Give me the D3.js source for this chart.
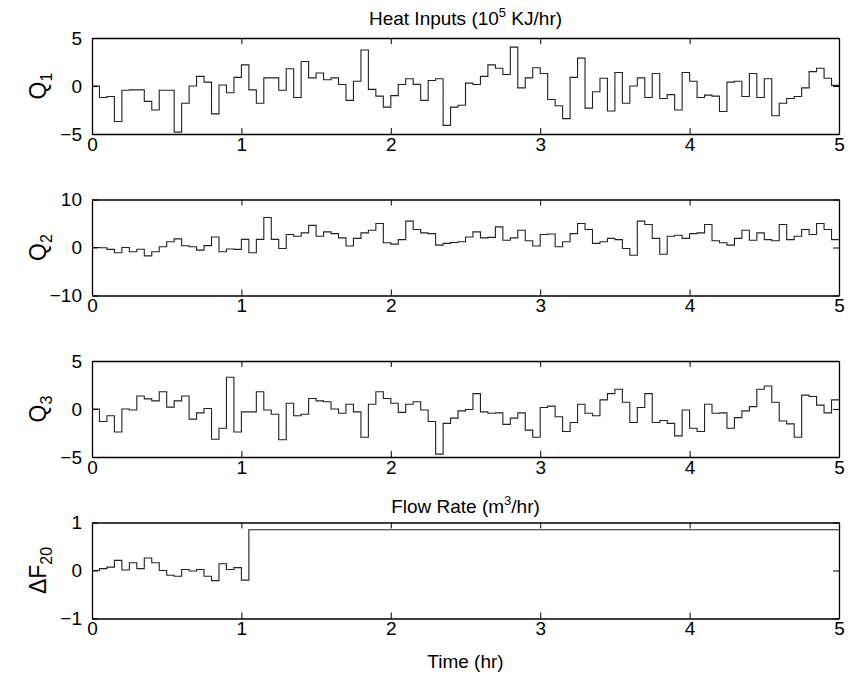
<!DOCTYPE html>
<html>

<head>
    <meta charset="utf-8">
    <title>Heat inputs and flow rate</title>
    <style>
        body { margin: 0; background: #fff; }
        text { font-family: "Liberation Sans", Arial, sans-serif; fill: #000; }
    </style>
</head>

<body>
    <script src="https://d3js.org/d3.v7.min.js"></script>
    <script>
    // Sample time of the step signals (hr)
    const dt = 0.05;
    const xTicks = [0, 1, 2, 3, 4, 5];

    // Heat input Q1 (10^5 KJ/hr), one value per 0.05 hr
    const q1 = [0, -1.2, -1.1, -3.7, -0.45, -0.4, -0.4, -1.6, -2.5, -0.45,
        -0.45, -4.8, -1.8, 0, 1.0, 0.4, -2.9, 0.1, -0.7, 0.9,
        2.2, -0.4, -1.8, 0.85, 0.85, -0.45, 1.8, -1.2, 2.55, 0.85,
        1.35, 0.65, 0.85, 0.15, -1.5, 0.5, 3.75, -0.35, -1.05, -2.2,
        -1.0, 0.15, 0.75, 0.17, -1.5, 0.58, 0.75, -4.1, -2.2, -2.0,
        0.3, 0.15, 1.0, 2.2, 1.85, 1.2, 4.05, -0.2, 0.85, 1.9,
        1.3, -1.4, -2.05, -3.4, 0.9, 2.9, -2.3, -0.6, 0.8, -2.6,
        1.4, -1.8, 0, 0.85, -1.2, 1.3, -1.3, -0.9, -2.5, 1.4,
        0.5, -1.2, -0.95, -1.05, -2.65, 0.4, 0.5, -1.1, 1.3, -1.2,
        0.75, -3.1, -1.8, -1.3, -1.1, -0.2, 1.5, 1.85, 0.8, 0.07];

    // Heat input Q2
    const q2 = [0, -0.05, -0.4, -1.1, 0, -0.9, -0.35, -1.75, -0.9, 0.15,
        1.2, 1.8, 0.35, 0.15, -0.55, 0.4, 2.2, -0.9, -0.3, -0.4,
        1.7, -1.1, 1.7, 6.25, 1.7, -0.2, 2.7, 2.35, 3.05, 4.6,
        2.35, 3.25, 2.9, 2.0, 0.3, 1.9, 3.05, 3.6, 5.0, 1.0,
        0.7, 1.65, 5.5, 3.75, 3.05, 2.9, 0.5, 0.85, 1.05, 1.2,
        2.2, 3.25, 2.0, 2.1, 4.3, 1.5, 2.0, 3.6, 1.4, 0.3,
        2.7, 2.8, 0.15, 1.2, 2.9, 5.0, 3.75, 0.85, 1.2, 1.9,
        1.65, -0.2, -1.6, 5.5, 4.8, 1.9, -1.4, 2.35, 2.55, 1.9,
        2.9, 3.05, 4.8, 1.4, 1.0, 0.5, 1.9, 3.6, 1.5, 3.05,
        1.65, 1.4, 4.8, 1.65, 2.35, 3.75, 2.7, 5.0, 3.75, 1.65];

    // Heat input Q3
    const q3 = [0, -1.3, -0.7, -2.4, 0, -0.1, 1.35, 1.05, 0.85, 1.8,
        0.2, 0.85, 1.35, -1.05, -0.4, 0.05, -3.15, -2.0, 3.3, -2.4,
        -0.3, -0.3, 1.8, -0.1, -0.55, -3.2, 0.6, -0.7, -0.55, 1.1,
        0.85, 0.75, 0, -0.45, 0.5, -0.3, -2.95, 0.5, 1.8, 1.1,
        0.6, -0.35, 0.5, 0.75, -0.1, -1.3, -4.7, -1.5, -0.95, -0.2,
        -0.05, 1.6, -0.3, -0.45, -0.4, -1.6, -0.95, -0.4, -2.2, -2.95,
        0.15, 0.3, -0.8, -2.35, -1.4, 0.5, -0.45, -0.7, 0.95, 1.6,
        2.05, 0.7, -1.4, 0.15, 1.6, -1.4, -1.2, -1.5, -2.8, -0.1,
        -2.0, -2.35, 0.5, -0.45, -0.4, -2.0, -0.9, -0.2, 0.25, 2.05,
        2.4, 0.7, -1.25, -1.55, -2.95, 1.45, 1.3, 0.4, -0.4, 0.95];

    // Flow rate change dF20 (m^3/hr); the last value is held to the end
    const dF20 = [0, 0.04, 0.07, 0.21, 0.01, 0.16, 0.04, 0.26, 0.16, 0,
        -0.1, -0.12, 0.02, -0.01, 0.02, -0.12, -0.21, 0.14, 0.02, 0.06,
        -0.2, 0.85];

    // y ranges and ticks for each panel
    const q1Domain = [-5, 5], q1Ticks = [-5, 0, 5];
    const q2Domain = [-10, 10], q2Ticks = [-10, 0, 10];
    const q3Domain = [-5, 5], q3Ticks = [-5, 0, 5];
    const fDomain = [-1, 1], fTicks = [-1, 0, 1];

    // Layout
    const width = 850, height = 681;
    const left = 92, right = 839;
    const panelH = 96;
    const tops = [38, 199.5, 361, 522.5];

    const svg = d3.select("body").append("svg")
        .attr("width", width)
        .attr("height", height);

    const x = d3.scaleLinear().domain([0, 5]).range([left, right]);

    function toPoints(vals) {
        const pts = vals.map((v, i) => ({ t: i * dt, v: v }));
        pts.push({ t: 5, v: vals[vals.length - 1] });
        return pts;
    }

    function panel(top, vals, domain, ticks, label, sub) {
        const y = d3.scaleLinear().domain(domain).range([top + panelH, top]);
        const g = svg.append("g");

        // step signal
        g.append("path")
            .datum(toPoints(vals))
            .attr("fill", "none")
            .attr("stroke", "#222")
            .attr("stroke-width", 1.1)
            .attr("d", d3.line()
                .curve(d3.curveStepAfter)
                .x(d => x(d.t))
                .y(d => y(d.v)));

        // box axes, ticks pointing inwards
        g.append("g")
            .attr("transform", `translate(0,${top + panelH})`)
            .call(d3.axisBottom(x).tickValues(xTicks).tickSizeInner(-6).tickSizeOuter(0).tickPadding(3).tickFormat(d3.format("d")));
        g.append("g")
            .attr("transform", `translate(0,${top})`)
            .call(d3.axisTop(x).tickValues(xTicks).tickSizeInner(-6).tickSizeOuter(0).tickFormat(""));
        g.append("g")
            .attr("transform", `translate(${left},0)`)
            .call(d3.axisLeft(y).tickValues(ticks).tickSizeInner(-6).tickSizeOuter(0).tickPadding(10).tickFormat(d3.format("d")));
        g.append("g")
            .attr("transform", `translate(${right},0)`)
            .call(d3.axisRight(y).tickValues(ticks).tickSizeInner(-6).tickSizeOuter(0).tickFormat(""));

        g.selectAll(".domain").attr("stroke", "#000").attr("stroke-width", 1.3);
        g.selectAll(".tick line").attr("stroke", "#000");
        g.selectAll(".tick text").style("font-size", "19px").attr("fill", "#000");

        // rotated y label with subscript
        const yl = g.append("text")
            .attr("transform", `translate(46,${top + panelH / 2}) rotate(-90)`)
            .attr("text-anchor", "middle")
            .style("font-size", "23px");
        yl.append("tspan").text(label);
        yl.append("tspan").attr("dy", 6).style("font-size", "16px").text(sub);
    }

    panel(tops[0], q1, q1Domain, q1Ticks, "Q", "1");
    panel(tops[1], q2, q2Domain, q2Ticks, "Q", "2");
    panel(tops[2], q3, q3Domain, q3Ticks, "Q", "3");
    panel(tops[3], dF20, fDomain, fTicks, "\u0394F", "20");

    const cx = (left + right) / 2;

    // titles
    const t1 = svg.append("text")
        .attr("x", cx).attr("y", 25)
        .attr("text-anchor", "middle")
        .style("font-size", "19px");
    t1.append("tspan").text("Heat Inputs (10");
    t1.append("tspan").attr("dy", -8).style("font-size", "13px").text("5");
    t1.append("tspan").attr("dy", 8).text(" KJ/hr)");

    const t2 = svg.append("text")
        .attr("x", cx).attr("y", 513)
        .attr("text-anchor", "middle")
        .style("font-size", "19px");
    t2.append("tspan").text("Flow Rate (m");
    t2.append("tspan").attr("dy", -8).style("font-size", "13px").text("3");
    t2.append("tspan").attr("dy", 8).text("/hr)");

    svg.append("text")
        .attr("x", cx).attr("y", 668)
        .attr("text-anchor", "middle")
        .style("font-size", "19px")
        .text("Time (hr)");
    </script>
</body>

</html>
